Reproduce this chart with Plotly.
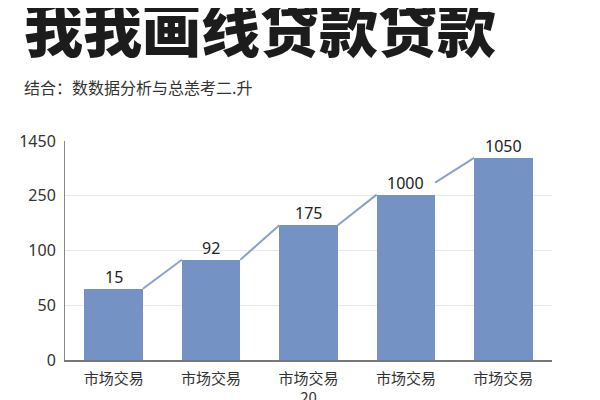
import plotly.graph_objects as go

# 데이터
categories = ['市场交易', '市场交易', '市场交易<br>20', '市场交易', '市场交易']
bar_levels = [1.30, 1.83, 2.46, 3.02, 3.69]      # y축 눈금 단위 높이 (비선형 눈금)
bar_labels = ['15', '92', '175', '1000', '1050']
link_lift = [0, 0, 0, 0.22]                     # 마지막 연결선은 라벨 옆에서 시작
tick_pos = [0, 1, 2, 3, 4]
tick_text = ['0', '50', '100', '250', '1450']

title_text = '我我画线贷款贷款'
subtitle_text = '结合：数数据分析与总恙考⼆.升'

W, H = 600, 400
OFF = 8                     # 페이지 body margin 보정
PLOT_TOP, PLOT_BOTTOM = 141 - OFF, 360 - OFF
PLOT_LEFT, PLOT_RIGHT = 65 - OFF, 552 - OFF
BAR_W = 0.6
bar_color = '#7592c4'
link_color = '#8aa2cb'


def px_to_paper(py):
    return (PLOT_BOTTOM - (py - OFF)) / (PLOT_BOTTOM - PLOT_TOP)


xs = list(range(len(categories)))

fig = go.Figure()
fig.add_trace(go.Bar(x=xs, y=bar_levels, width=BAR_W, marker=dict(color=bar_color, line=dict(width=0)),
                     hoverinfo='skip'))

# 막대 사이 연결선
lx, ly = [], []
for i in range(len(xs) - 1):
    lx += [xs[i] + BAR_W / 2, xs[i + 1] - BAR_W / 2, None]
    ly += [bar_levels[i] + link_lift[i], bar_levels[i + 1], None]
fig.add_trace(go.Scatter(x=lx, y=ly, mode='lines', line=dict(color=link_color, width=2), hoverinfo='skip'))

annotations = []
for x, y, t in zip(xs, bar_levels, bar_labels):
    annotations.append(dict(x=x, y=y, xref='x', yref='y', text=t, showarrow=False, yshift=12,
                            yanchor='middle', font=dict(size=16, color='#222', family='Noto Sans')))

annotations.append(dict(x=0, xref='paper', xanchor='left', xshift=22 - 65, y=px_to_paper(27), yref='paper',
                        yanchor='middle', text=title_text, showarrow=False,
                        font=dict(size=59, color='#1c1c1c', family='Noto Sans CJK SC', weight=900)))
annotations.append(dict(x=0, xref='paper', xanchor='left', xshift=22 - 65, y=px_to_paper(87), yref='paper',
                        yanchor='middle', text=subtitle_text, showarrow=False,
                        font=dict(size=16, color='#333', family='Noto Sans CJK SC')))

fig.update_layout(
    width=W, height=H,
    margin=dict(l=PLOT_LEFT, r=W - PLOT_RIGHT, t=PLOT_TOP, b=H - PLOT_BOTTOM, autoexpand=False),
    paper_bgcolor='white', plot_bgcolor='white',
    showlegend=False,
    bargap=0,
    annotations=annotations,
    xaxis=dict(range=[-0.5, 4.5], tickvals=xs, ticktext=categories, showgrid=False,
               showline=True, linecolor='#777', linewidth=1.5, ticks='', automargin=False,
               ticklabelstandoff=4,
               tickfont=dict(size=15, color='#333', family='Noto Sans CJK SC'), zeroline=False),
    yaxis=dict(range=[0, 4], tickvals=tick_pos, ticktext=tick_text, showgrid=True,
               gridcolor='#e8e8e8', gridwidth=1, showline=True, linecolor='#888', linewidth=1,
               ticks='', automargin=False, zeroline=False, ticklabelstandoff=5,
               tickfont=dict(size=16, color='#333', family='Noto Sans')),
)

fig.write_html('out.html')
